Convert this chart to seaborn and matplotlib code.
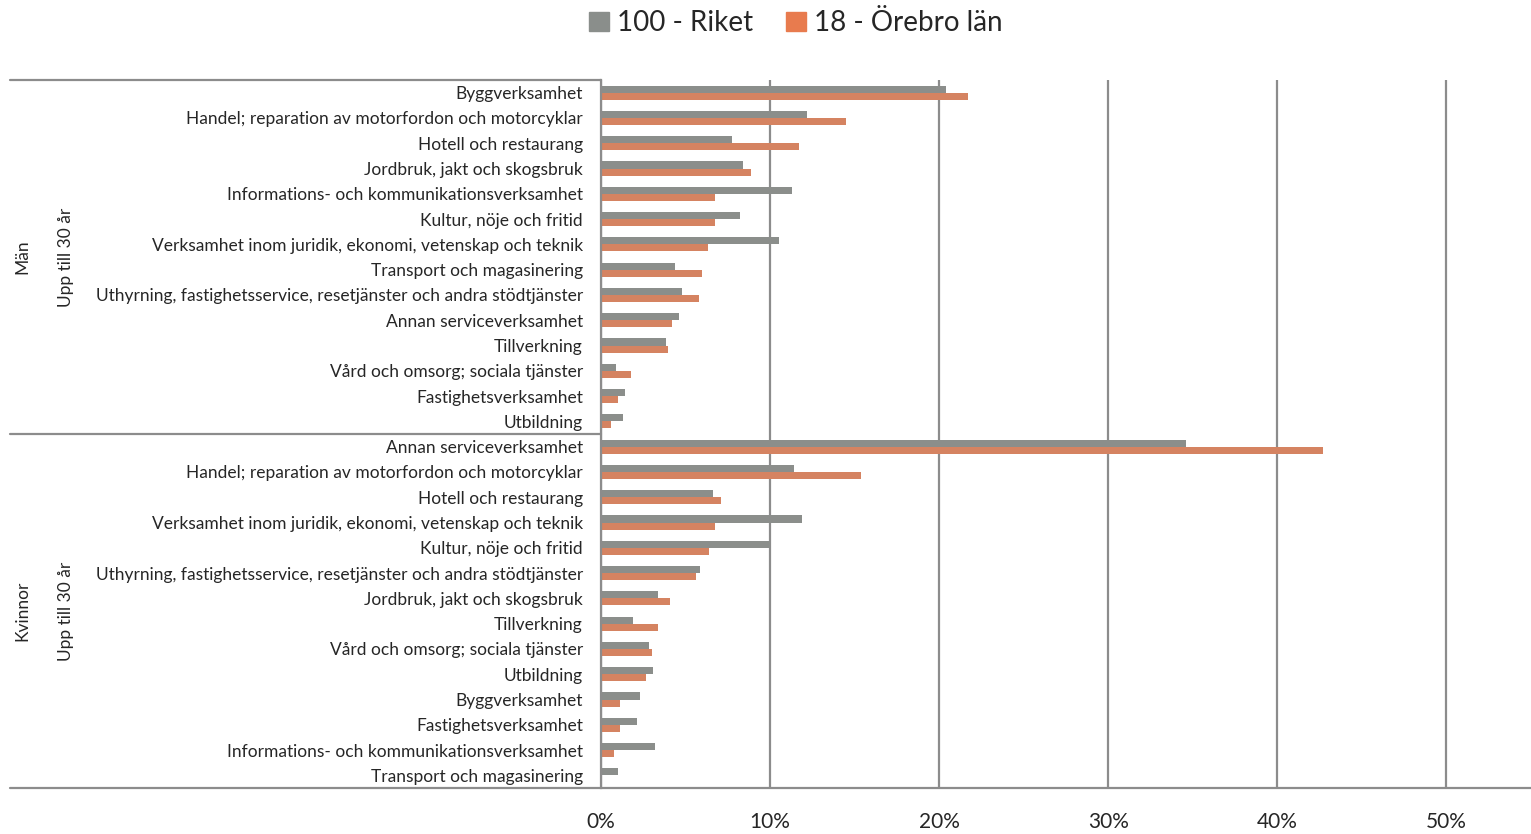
import pandas as pd
import seaborn as sns
import matplotlib.pyplot as plt
from matplotlib.lines import Line2D
from matplotlib.patches import Patch
from matplotlib.ticker import PercentFormatter

# Kategorier per grupp (uppifrån och ner)
kat_man = ["Byggverksamhet",
           "Handel; reparation av motorfordon och motorcyklar",
           "Hotell och restaurang",
           "Jordbruk, jakt och skogsbruk",
           "Informations- och kommunikationsverksamhet",
           "Kultur, nöje och fritid",
           "Verksamhet inom juridik, ekonomi, vetenskap och teknik",
           "Transport och magasinering",
           "Uthyrning, fastighetsservice, resetjänster och andra stödtjänster",
           "Annan serviceverksamhet",
           "Tillverkning",
           "Vård och omsorg; sociala tjänster",
           "Fastighetsverksamhet",
           "Utbildning"]
riket_man = [20.4, 12.2, 7.75, 8.4, 11.3, 8.2, 10.5, 4.4, 4.8, 4.6, 3.85, 0.9, 1.4, 1.3]
orebro_man = [21.7, 14.5, 11.7, 8.9, 6.75, 6.75, 6.3, 6.0, 5.8, 4.2, 3.95, 1.8, 1.0, 0.6]

kat_kvinnor = ["Annan serviceverksamhet",
               "Handel; reparation av motorfordon och motorcyklar",
               "Hotell och restaurang",
               "Verksamhet inom juridik, ekonomi, vetenskap och teknik",
               "Kultur, nöje och fritid",
               "Uthyrning, fastighetsservice, resetjänster och andra stödtjänster",
               "Jordbruk, jakt och skogsbruk",
               "Tillverkning",
               "Vård och omsorg; sociala tjänster",
               "Utbildning",
               "Byggverksamhet",
               "Fastighetsverksamhet",
               "Informations- och kommunikationsverksamhet",
               "Transport och magasinering"]
riket_kvinnor = [34.6, 11.4, 6.6, 11.9, 10.0, 5.85, 3.4, 1.9, 2.85, 3.1, 2.3, 2.1, 3.2, 1.0]
orebro_kvinnor = [42.7, 15.4, 7.1, 6.75, 6.4, 5.6, 4.1, 3.4, 3.0, 2.65, 1.1, 1.1, 0.75, 0.0]

serier = ["100 - Riket", "18 - Örebro län"]
farger = ["#8A8E8B", "#E87B4E"]

# Bygg tabell i långt format
rader = []
for grupp, kat, r, o in [("Män", kat_man, riket_man, orebro_man),
                         ("Kvinnor", kat_kvinnor, riket_kvinnor, orebro_kvinnor)]:
    for k, vr, vo in zip(kat, r, o):
        nyckel = grupp + "|" + k
        rader.append({"rad": nyckel, "serie": serier[0], "andel": vr / 100})
        rader.append({"rad": nyckel, "serie": serier[1], "andel": vo / 100})
df = pd.DataFrame(rader)

sns.set_style("white")
plt.rcParams['font.family'] = ['Lato', 'DejaVu Sans']

W, H = 1531, 834
fig = plt.figure(figsize=(W / 100, H / 100), dpi=100)
ax = fig.add_axes([601 / W, 46 / H, 930 / W, 708 / H])

sns.barplot(data=df, y="rad", x="andel", hue="serie", orient="h",
            palette=farger, width=0.56, dodge=True, ax=ax, legend=False,
            edgecolor="none")

ax.set_xlim(0, 0.55)
ax.set_ylim(27.5, -0.5)
ax.set_xticks([0, 0.1, 0.2, 0.3, 0.4, 0.5])
ax.xaxis.set_major_formatter(PercentFormatter(1.0, decimals=0))
ax.set_yticks(range(28))
ax.set_yticklabels(kat_man + kat_kvinnor, fontsize=12.5)
ax.tick_params(axis="y", length=0, pad=13)
ax.tick_params(axis="x", length=0, pad=17, labelsize=15)
ax.set_xlabel("")
ax.set_ylabel("")
ax.grid(axis="x", color="#8C8C8C", linewidth=1.6)
ax.set_axisbelow(True)
for s in ["top", "right", "bottom"]:
    ax.spines[s].set_visible(False)
ax.spines["left"].set_color("#8C8C8C")
ax.spines["left"].set_linewidth(1.6)

# Grupplinjer till vänster och baslinje
lc = "#8C8C8C"
for y0, x1 in [(80, 601), (434, 601), (788, W)]:
    fig.add_artist(Line2D([10 / W, x1 / W], [1 - y0 / H, 1 - y0 / H],
                          color=lc, linewidth=1.6))

# Gruppetiketter
for namn, yc in [("Män", 257), ("Kvinnor", 611)]:
    fig.text(22 / W, 1 - yc / H, namn, rotation=90, ha="center", va="center", fontsize=12.5)
    fig.text(66 / W, 1 - yc / H, "Upp till 30 år", rotation=90, ha="center", va="center", fontsize=12.5)

handles = [Patch(color=c, label=s) for c, s in zip(farger, serier)]
fig.legend(handles=handles, loc="center", bbox_to_anchor=(796 / W, 1 - 23 / H), ncol=2,
           frameon=False, fontsize=20, handlelength=0.7, handleheight=0.7,
           handletextpad=0.3, columnspacing=1.2)

fig.savefig("out.png", dpi=100)
